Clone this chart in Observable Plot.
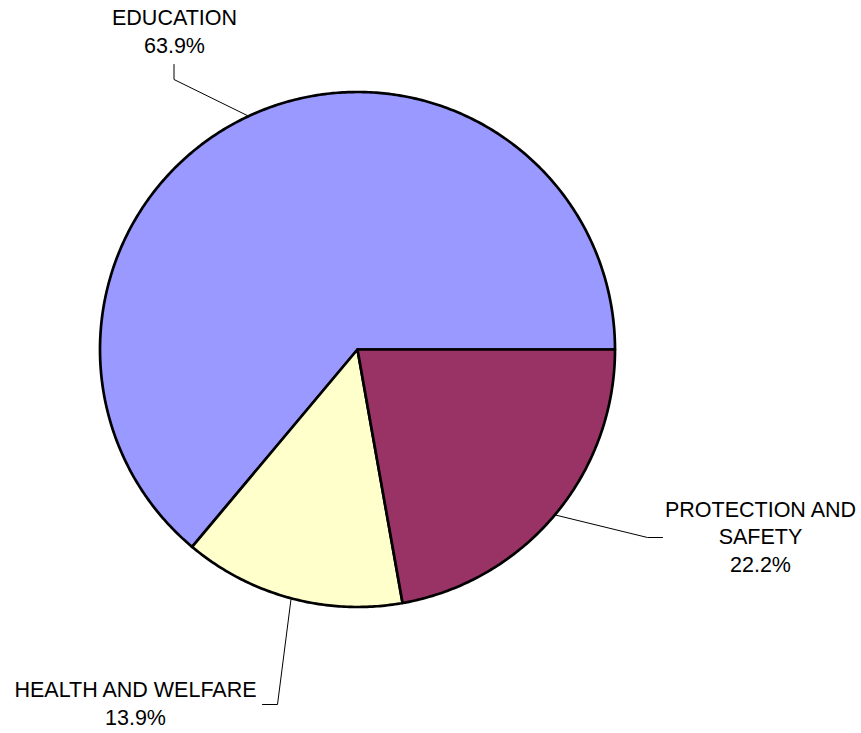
<!DOCTYPE html>
<html><head><meta charset="utf-8">
<script src="https://cdn.jsdelivr.net/npm/d3@7"></script>
<script src="https://cdn.jsdelivr.net/npm/@observablehq/plot@0.6"></script>
<style>body{margin:0;background:#fff}</style>
</head><body><div id="chart"></div>
<script>
// ---- data ----
const categories = ["EDUCATION", "HEALTH AND WELFARE", "PROTECTION AND SAFETY"];
const shares = [63.9, 13.9, 22.2];
const labelNames = ["EDUCATION", "HEALTH AND WELFARE", "PROTECTION AND\nSAFETY"];
const colors = ["#9999FF", "#FFFFCC", "#993366"];

// ---- layout (pixel offsets from pie centre, y up) ----
const W = 861, H = 733, CX = 357, CY = 349, R = 257.5;
const labelLayout = [
  {elbow: [-183.5, 270], end: [-183.5, 285], text: [-183, 319.5]},
  {elbow: [-80, -355], end: [-95, -355], text: [-222, -353]},
  {elbow: [290, -188], end: [305, -188], text: [403, -186]}
];

// slices, counter-clockwise from 3 o'clock
const total = d3.sum(shares);
let acc = 0;
const slices = categories.map((c, i) => {
  const a0 = acc / total * 2 * Math.PI;
  acc += shares[i];
  const a1 = acc / total * 2 * Math.PI;
  return {cat: c, a0, a1, mid: (a0 + a1) / 2, share: shares[i], i};
});

const piePts = [];
for (const s of slices) {
  piePts.push({cat: s.cat, x: 0, y: 0});
  const n = Math.max(4, Math.ceil((s.a1 - s.a0) / 0.01));
  for (let k = 0; k <= n; k++) {
    const a = s.a0 + (s.a1 - s.a0) * k / n;
    piePts.push({cat: s.cat, x: R * Math.cos(a), y: R * Math.sin(a)});
  }
}

const leaderPts = [];
for (const s of slices) {
  const L = labelLayout[s.i];
  leaderPts.push({cat: s.cat, x: R * Math.cos(s.mid), y: R * Math.sin(s.mid)});
  leaderPts.push({cat: s.cat, x: L.elbow[0], y: L.elbow[1]});
  leaderPts.push({cat: s.cat, x: L.end[0], y: L.end[1]});
}

const labels = slices.map(s => ({
  text: labelNames[s.i] + "\n" + s.share.toFixed(1) + "%",
  x: labelLayout[s.i].text[0], y: labelLayout[s.i].text[1]
}));

const chart = Plot.plot({
  width: W, height: H, margin: 0,
  x: {domain: [-CX, W - CX], axis: null},
  y: {domain: [-(H - CY), CY], axis: null},
  color: {domain: categories, range: colors},
  style: {fontFamily: "'Liberation Sans', Arial, sans-serif", background: "#fff"},
  marks: [
    Plot.line(piePts, {x: "x", y: "y", z: "cat", fill: "cat", stroke: "#000", strokeWidth: 2.7, curve: "linear-closed", strokeLinejoin: "round"}),
    Plot.line(leaderPts, {x: "x", y: "y", z: "cat", stroke: "#000", strokeWidth: 1}),
    Plot.text(labels, {x: "x", y: "y", text: "text", fontSize: 21.5, lineHeight: 1.3, fill: "#000", textAnchor: "middle"})
  ]
});
document.getElementById("chart").appendChild(chart);
</script>
</body></html>
